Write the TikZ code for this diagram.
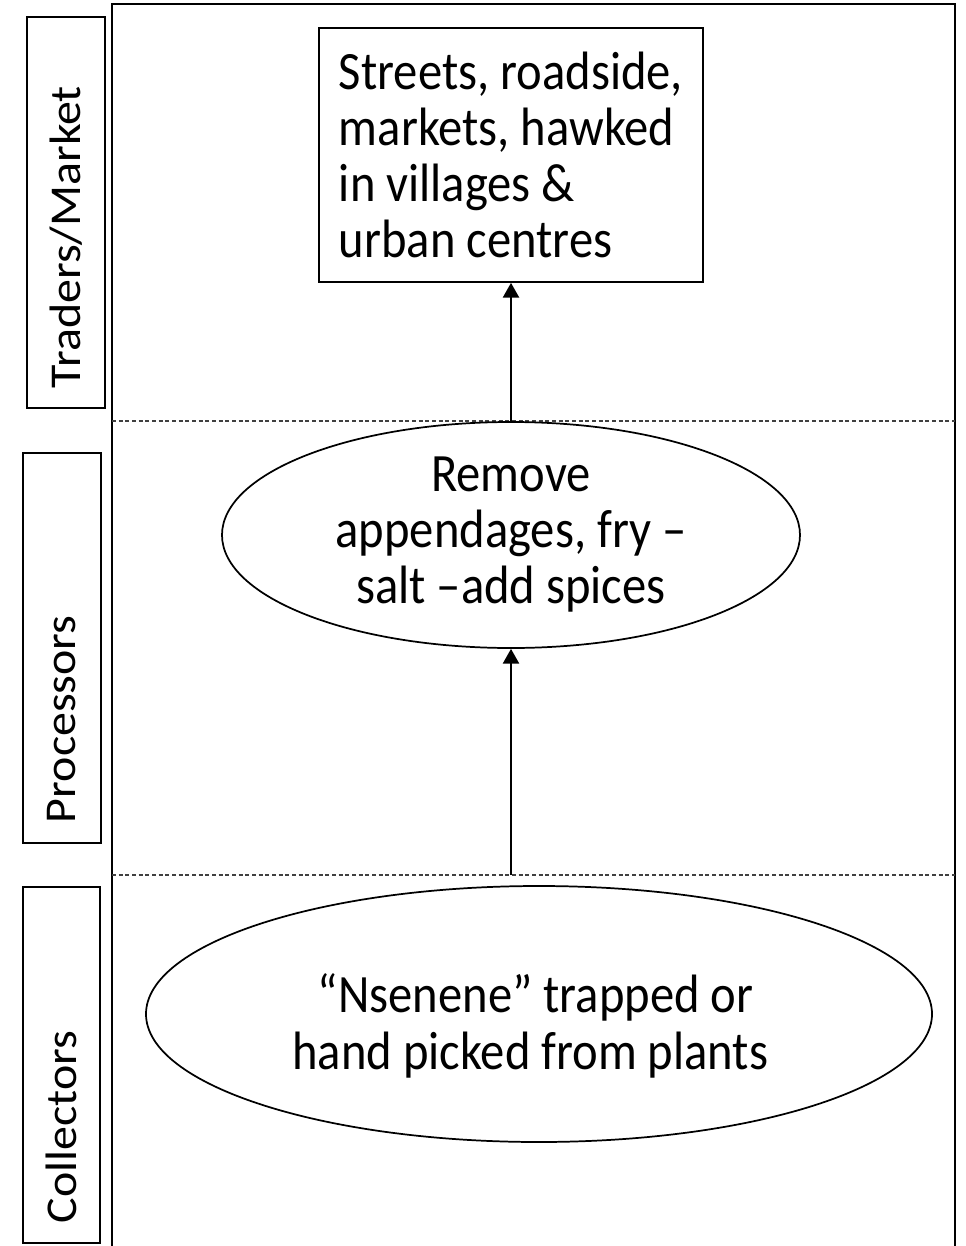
\documentclass[tikz,border=0pt]{standalone}
\usepackage{fontspec}
\setmainfont{Carlito}[FakeStretch=0.9]
\newfontfamily\lanefont{Carlito}[FakeStretch=1.09]
\usetikzlibrary{shapes.geometric,arrows.meta}

\begin{document}
\begin{tikzpicture}[
  x=0.75pt, y=-0.75pt,
  frame/.style={line width=2pt, draw=black},
  lanerule/.style={line width=0.8pt, draw=black!75, dash pattern=on 3pt off 2pt},
  lanebox/.style={draw, line width=1.3pt, rotate=90, rectangle,
    inner xsep=15pt, inner ysep=0pt, align=left,
    font=\lanefont\fontsize{33pt}{38pt}\selectfont},
  bodytext/.style={font=\fontsize{40.5pt}{42pt}\selectfont},
  stagebox/.style={draw, line width=1.3pt, rectangle, bodytext, align=left,
    inner xsep=0pt, inner ysep=0pt},
  stageoval/.style={draw, line width=1.3pt, ellipse, bodytext, align=center,
    inner sep=0pt},
  flow/.style={line width=1.5pt, -{Triangle[width=12pt,length=11pt]}}
]
\useasboundingbox (0,0) rectangle (965,1246);

% swim-lane frame (open at the bottom)
\draw[frame] (112,1246) -- (112,4) -- (955,4) -- (955,1246);

% lane separators
\coordinate (sepA) at (112,421);
\coordinate (sepAend) at (955,421);
\coordinate (sepB) at (112,875);
\coordinate (sepBend) at (955,875);
\draw[lanerule] (sepA) -- (sepAend);
\draw[lanerule] (sepB) -- (sepBend);

% lane titles
\node[lanebox, text width=263.25pt, minimum height=58.5pt] (laneT) at (66,212.5) {Traders/Market};
\node[lanebox, text width=262.5pt, minimum height=58.5pt] (laneP) at (62,648) {Processors};
\node[lanebox, text width=237pt, minimum height=57.75pt] (laneC) at (61.5,1065) {Collectors};

% stages
\node[stagebox, minimum width=288pt, minimum height=190.5pt] (market) at (511,155)
  {Streets, roadside,\\markets, hawked\\in villages \&\\urban centres};
\node[stageoval, minimum width=433.5pt, minimum height=169.5pt] (proc) at (511,535)
  {Remove\\appendages, fry –\\salt –add spices};
\node[stageoval, minimum width=589.5pt, minimum height=192pt,
      font=\fontsize{40.5pt}{43pt}\selectfont] (collect) at (539,1014)
  {\rule{0pt}{47pt}\hspace*{8pt}“Nsenene” trapped or\hspace*{13pt}\null\\
   hand picked from plants\hspace*{13pt}\null};

% flow between stages
\coordinate (fromC) at (511,875);
\draw[flow] (proc.north) -- (market.south);
\draw[flow] (fromC) -- (proc.south);
\end{tikzpicture}
\end{document}
